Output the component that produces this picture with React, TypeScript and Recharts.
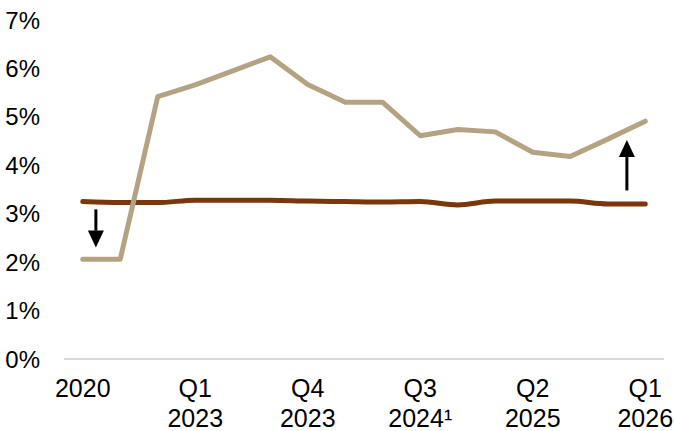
import React from 'react';
import { LineChart, Line, XAxis, YAxis, ReferenceLine } from 'recharts';

const periods = ['2020', 'Q3 2022', 'Q4 2022', 'Q1 2023', 'Q2 2023', 'Q3 2023', 'Q4 2023', 'Q1 2024', 'Q2 2024', 'Q3 2024¹', 'Q4 2024', 'Q1 2025', 'Q2 2025', 'Q3 2025', 'Q4 2025', 'Q1 2026'];
const tanSeries = [2.06, 2.06, 5.42, 5.66, 5.95, 6.24, 5.67, 5.3, 5.3, 4.61, 4.74, 4.69, 4.27, 4.18, 4.54, 4.91];
const brownSeries = [3.25, 3.23, 3.23, 3.28, 3.28, 3.28, 3.26, 3.25, 3.24, 3.25, 3.18, 3.26, 3.26, 3.26, 3.2, 3.2];
const tickIndexes = [0, 3, 6, 9, 12, 15];
const tickLabels: Record<number, string[]> = {
  0: ['2020'],
  3: ['Q1', '2023'],
  6: ['Q4', '2023'],
  9: ['Q3', '2024¹'],
  12: ['Q2', '2025'],
  15: ['Q1', '2026'],
};
const yTicks = [0, 1, 2, 3, 4, 5, 6, 7];
const downArrow = { x: 0.35, from: 3.09, to: 2.3 };
const upArrow = { x: 14.51, from: 3.48, to: 4.52 };

const data = periods.map((p, i) => ({ i, period: p, tan: tanSeries[i], brown: brownSeries[i] }));

const FONT = '"Liberation Sans", Arial, sans-serif';

const XTick = (props: any) => {
  const { x, y, payload } = props;
  const lines = tickLabels[payload.value] || [];
  return (
    <g>
      {lines.map((l, k) => (
        <text key={k} x={x} y={y + 38 + k * 30} textAnchor="middle" fontSize={25} fontFamily={FONT} fill="#000">
          {l}
        </text>
      ))}
    </g>
  );
};

const Arrow = (props: any) => {
  const { x1, y1, x2, y2 } = props;
  const dir = y2 > y1 ? 1 : -1;
  const headLen = 17;
  const headHalf = 8;
  const baseY = y2 - dir * headLen;
  return (
    <g>
      <line x1={x1} y1={y1} x2={x2} y2={baseY} stroke="#000" strokeWidth={3} />
      <polygon points={`${x2 - headHalf},${baseY} ${x2 + headHalf},${baseY} ${x2},${y2}`} fill="#000" />
    </g>
  );
};

export default function App() {
  return (
    <div style={{ position: 'fixed', left: 0, top: 0, background: '#fff' }}>
      <LineChart width={674} height={431} data={data} margin={{ top: 20, right: 10, bottom: 0, left: 0 }}>
        <XAxis
          dataKey="i"
          type="number"
          domain={[-0.5, 15.5]}
          ticks={tickIndexes}
          interval={0}
          tick={<XTick />}
          tickLine={false}
          tickSize={0}
          tickMargin={0}
          height={72}
          axisLine={{ stroke: '#d9d9d9', strokeWidth: 2 }}
          allowDataOverflow
        />
        <YAxis
          domain={[0, 7]}
          ticks={yTicks}
          interval={0}
          width={64}
          axisLine={false}
          tickLine={false}
          tickSize={0}
          tickMargin={24}
          tickFormatter={(v: number) => `${v}%`}
          tick={{ fontSize: 24, fontFamily: FONT, fill: '#000' }}
        />
        <Line dataKey="brown" type="monotone" stroke="#7a370c" strokeWidth={5} dot={false} isAnimationActive={false} strokeLinecap="round" />
        <Line dataKey="tan" type="linear" stroke="#b4a383" strokeWidth={5} dot={false} isAnimationActive={false} strokeLinecap="round" strokeLinejoin="round" />
        <ReferenceLine segment={[{ x: downArrow.x, y: downArrow.from }, { x: downArrow.x, y: downArrow.to }]} shape={<Arrow />} />
        <ReferenceLine segment={[{ x: upArrow.x, y: upArrow.from }, { x: upArrow.x, y: upArrow.to }]} shape={<Arrow />} />
      </LineChart>
    </div>
  );
}
